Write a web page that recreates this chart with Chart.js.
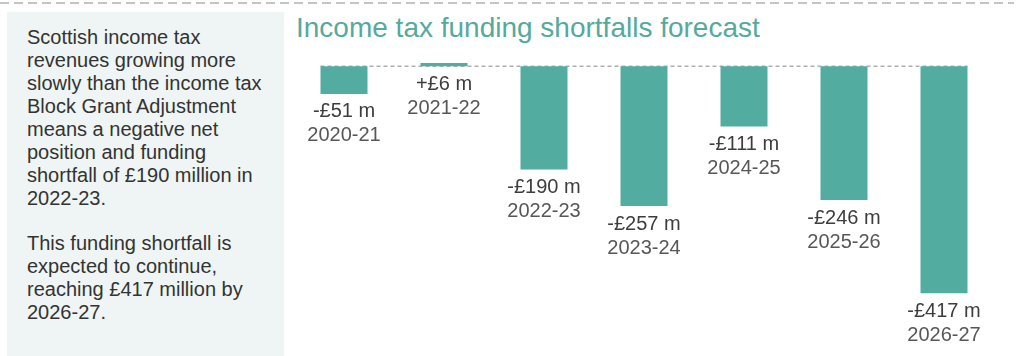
<!DOCTYPE html>
<html>
<head>
<meta charset="utf-8">
<script src="https://cdn.jsdelivr.net/npm/chart.js@4"></script>
<style>
  html, body { margin: 0; padding: 0; background: #fff; }
  body { width: 1022px; height: 356px; position: relative; overflow: hidden; font-family: "Liberation Sans", Arial, sans-serif; }
  #topline { position: absolute; left: 0; top: 2px; width: 1014px; height: 2px;
    background: repeating-linear-gradient(to right, #c4c4c4 0 9px, transparent 9px 14px); }
  #panel { position: absolute; left: 7px; top: 12px; width: 277px; height: 344px; background: #eef5f4;
    box-sizing: border-box; padding: 14px 0 0 20px; color: #333; font-size: 20px; line-height: 23px; white-space: nowrap; }
  #panel p { margin: 0 0 22px 0; }
  #title { position: absolute; left: 296px; top: 14px; font-size: 28px; line-height: 1; color: #56a99d; white-space: nowrap; }
  #wrap { position: absolute; left: 290px; top: 0; width: 732px; height: 356px; }
</style>
</head>
<body>
<div id="topline"></div>
<div id="panel">
  <p>Scottish income tax<br>revenues growing more<br>slowly than the income tax<br>Block Grant Adjustment<br>means a negative net<br>position and funding<br>shortfall of £190 million in<br>2022-23.</p>
  <p>This funding shortfall is<br>expected to continue,<br>reaching £417 million by<br>2026-27.</p>
</div>
<div id="title">Income tax funding shortfalls forecast</div>
<div id="wrap"><canvas id="c" width="732" height="356"></canvas></div>
<script>
const categories = ["2020-21", "2021-22", "2022-23", "2023-24", "2024-25", "2025-26", "2026-27"];
const values = [-51, 6, -190, -257, -111, -246, -417];
const valueLabels = ["-£51 m", "+£6 m", "-£190 m", "-£257 m", "-£111 m", "-£246 m", "-£417 m"];

const labelPlugin = {
  id: 'labels',
  beforeDatasetsDraw(chart) {
    const meta = chart.getDatasetMeta(0);
    const els = meta.data;
    const y0 = chart.scales.y.getPixelForValue(0);
    const first = els[0], last = els[els.length - 1];
    const ctx = chart.ctx;
    ctx.save();
    ctx.strokeStyle = '#b0b0b0';
    ctx.lineWidth = 1.5;
    ctx.setLineDash([4, 3]);
    ctx.beginPath();
    ctx.moveTo(first.x - first.width / 2, y0);
    ctx.lineTo(last.x + last.width / 2, y0);
    ctx.stroke();
    ctx.restore();
  },
  afterDatasetsDraw(chart) {
    const meta = chart.getDatasetMeta(0);
    const ctx = chart.ctx;
    ctx.save();
    ctx.textAlign = 'center';
    ctx.textBaseline = 'middle';
    ctx.font = '20px "Liberation Sans", Arial, sans-serif';
    meta.data.forEach((el, i) => {
      const bottom = Math.max(el.y, el.base);
      ctx.fillStyle = '#3d3d3d';
      ctx.fillText(valueLabels[i], el.x, bottom + 18);
      ctx.fillStyle = '#575757';
      ctx.fillText(categories[i], el.x, bottom + 42);
    });
    ctx.restore();
  }
};

new Chart(document.getElementById('c'), {
  type: 'bar',
  data: {
    labels: categories,
    datasets: [{
      data: values,
      backgroundColor: '#52aca0',
      borderWidth: 0,
      categoryPercentage: 1,
      barPercentage: 0.47
    }]
  },
  options: {
    responsive: false,
    animation: false,
    devicePixelRatio: 1,
    layout: { padding: { left: 4, right: 28, top: 39, bottom: 34 } },
    plugins: { legend: { display: false }, tooltip: { enabled: false }, title: { display: false } },
    scales: {
      x: { display: false },
      y: { display: false, min: -470, max: 50 }
    }
  },
  plugins: [labelPlugin]
});
</script>
</body>
</html>
